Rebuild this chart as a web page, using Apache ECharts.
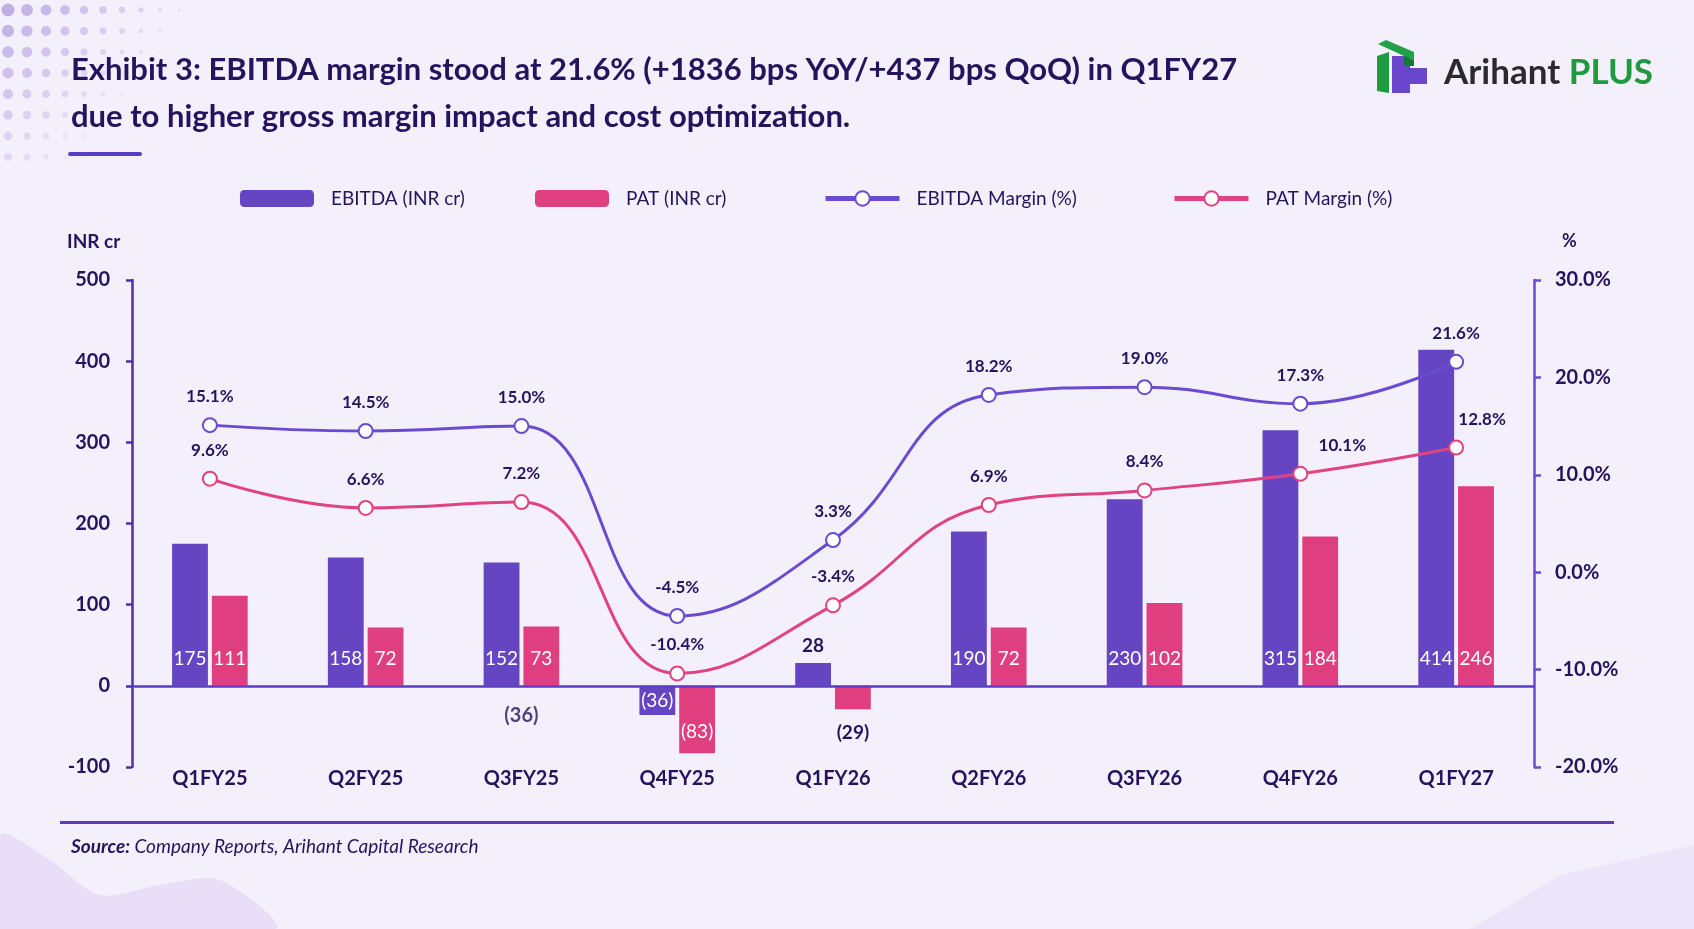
<!DOCTYPE html>
<html>
<head>
<meta charset="utf-8">
<script src="https://cdn.jsdelivr.net/npm/echarts@6/dist/echarts.min.js"></script>
<style>
  html, body { margin: 0; padding: 0; background: #f4f0fb; }
  #chart { width: 1694px; height: 929px; }
</style>
</head>
<body>
<div id="chart"></div>
<script>
// chart data (INR cr / %)
const categories = ['Q1FY25', 'Q2FY25', 'Q3FY25', 'Q4FY25', 'Q1FY26', 'Q2FY26', 'Q3FY26', 'Q4FY26', 'Q1FY27'];
const ebitda = [175, 158, 152, -36, 28, 190, 230, 315, 414];
const pat = [111, 72, 73, -83, -29, 72, 102, 184, 246];
const ebitdaMargin = [15.1, 14.5, 15.0, -4.5, 3.3, 18.2, 19.0, 17.3, 21.6];
const patMargin = [9.6, 6.6, 7.2, -10.4, -3.4, 6.9, 8.4, 10.1, 12.8];
const leftTicks = [-100, 0, 100, 200, 300, 400, 500];
const rightTicks = [-20, -10, 0, 10, 20, 30];
// stray label printed under Q3FY25 in the source exhibit
const strayNote = ['Q3FY25', -36];

const purple = '#6645c2';
const pink = '#df3f7e';
const navy = '#24145e';
const font = 'Lato, "Noto Sans", sans-serif';

const fmtBar = v => v < 0 ? '(' + Math.abs(v) + ')' : String(v);

function barData(values) {
  return values.map(v => {
    let label;
    if (v >= 0 && v < 50) {
      label = { position: 'top', color: navy, distance: 8, fontWeight: 'bold', textBorderWidth: 0 };
    } else if (v < 0 && v > -35) {
      label = { position: 'bottom', color: navy, distance: 14, fontWeight: 'bold', textBorderWidth: 0 };
    } else if (v < 0) {
      label = { position: 'inside', color: '#fff', offset: [0, v < -60 ? 12 : 0] };
    } else {
      label = { position: 'insideBottom', color: '#fff', distance: 17 };
    }
    return { value: v, label: label };
  });
}

function lineData(values, shifts) {
  return values.map((v, i) => {
    const d = { value: v };
    if (shifts && shifts[i]) d.label = { offset: [shifts[i], 0] };
    return d;
  });
}

const myChart = echarts.init(document.getElementById('chart'));

// background ornaments
let deco = [];
for (let r = 0; r < 8; r++) {
  for (let c = 0; c < 14; c++) {
    const size = Math.max(0.6, 6.5 - c * 0.55 - r * 0.35);
    const op = Math.max(0.05, 0.55 - c * 0.045 - r * 0.05);
    deco.push({
      type: 'circle', silent: true, z: -10,
      shape: { cx: 8 + c * 19, cy: 10 + r * 21, r: size },
      style: { fill: 'rgba(150,120,210,' + op + ')' }
    });
  }
}
deco.push({
  type: 'polygon', silent: true, z: -10,
  shape: { points: [[0, 835], [50, 860], [100, 895], [160, 885], [220, 880], [275, 929], [0, 929]], smooth: 0.3 },
  style: { fill: '#e8def7' }
});
deco.push({
  type: 'polygon', silent: true, z: -10,
  shape: { points: [[1470, 929], [1560, 875], [1694, 845], [1694, 929]] },
  style: { fill: '#ece4f8' }
});

const legendBase = {
  top: 189,
  padding: 0,
  itemWidth: 74,
  itemHeight: 17,
  textStyle: { fontSize: 19, color: navy, padding: [0, 0, 0, 12], fontFamily: font }
};

const option = {
  backgroundColor: '#f4f0fb',
  animation: false,
  textStyle: { fontFamily: font },
  title: {
    text: 'Exhibit 3: EBITDA margin stood at 21.6% (+1836 bps YoY/+437 bps QoQ) in Q1FY27\ndue to higher gross margin impact and cost optimization.',
    left: 66,
    top: 41,
    textStyle: { fontFamily: font, fontSize: 31, fontWeight: 'bold', color: navy, lineHeight: 47 }
  },
  legend: [
    Object.assign({}, legendBase, { data: [{ name: 'EBITDA (INR cr)', icon: 'roundRect' }], left: 240 }),
    Object.assign({}, legendBase, { data: [{ name: 'PAT (INR cr)', icon: 'roundRect' }], left: 535 }),
    Object.assign({}, legendBase, {
      data: ['EBITDA Margin (%)'], left: 823, itemHeight: 18,
      lineStyle: { width: 5 }, itemStyle: { borderWidth: 3.5 }
    }),
    Object.assign({}, legendBase, {
      data: ['PAT Margin (%)'], left: 1172, itemHeight: 18,
      lineStyle: { width: 5 }, itemStyle: { borderWidth: 3.5 }
    })
  ],
  grid: { left: 132, right: 160, top: 280, bottom: 162, containLabel: false },
  xAxis: {
    type: 'category',
    data: categories,
    axisLine: { show: false, onZero: false },
    axisTick: { show: false },
    axisLabel: { color: navy, fontSize: 20, fontWeight: 'bold', margin: 2 }
  },
  yAxis: [
    {
      type: 'value',
      min: leftTicks[0],
      max: leftTicks[leftTicks.length - 1],
      interval: 100,
      axisLine: { show: true, onZero: false, lineStyle: { color: '#4a2fb0', width: 2.5 } },
      axisTick: { show: true, length: 6, lineStyle: { color: '#4a2fb0', width: 2.5 } },
      splitLine: { show: false },
      axisLabel: { color: navy, fontSize: 20, fontWeight: 'bold', margin: 22 }
    },
    {
      type: 'value',
      min: rightTicks[0],
      max: rightTicks[rightTicks.length - 1],
      interval: 10,
      position: 'right',
      axisLine: { show: true, onZero: false, lineStyle: { color: '#6a4bd0', width: 2.5 } },
      axisTick: { show: true, length: 7, lineStyle: { color: '#6a4bd0', width: 2.5 } },
      splitLine: { show: false },
      axisLabel: { color: navy, fontSize: 20, fontWeight: 'bold', margin: 21, formatter: v => v.toFixed(1) + '%' }
    }
  ],
  graphic: deco.concat([
    { type: 'rect', shape: { x: 68, y: 152, width: 74, height: 4, r: 2 }, style: { fill: '#5b3cc4' } },
    { type: 'text', x: 67, y: 232, style: { text: 'INR cr', fill: navy, font: 'bold 19px Lato, sans-serif' } },
    { type: 'text', x: 1562, y: 232, style: { text: '%', fill: navy, font: 'bold 18px Lato, sans-serif' } },
    { type: 'rect', shape: { x: 60, y: 821, width: 1554, height: 3 }, style: { fill: '#5b3cc4' } },
    {
      type: 'text', x: 71, y: 837,
      style: {
        text: '{b|Source:} Company Reports, Arihant Capital Research',
        fill: navy,
        font: 'italic 19px Lato, sans-serif',
        rich: { b: { fontWeight: 'bold', fontStyle: 'italic', fontSize: 19, fill: navy, fontFamily: 'Lato' } }
      }
    },
    // logo
    { type: 'polygon', shape: { points: [[1392, 56], [1410, 56], [1410, 68], [1427, 68], [1427, 84], [1410, 84], [1410, 93], [1392, 93]] }, style: { fill: '#6a46cc' } },
    { type: 'polygon', shape: { points: [[1377, 56], [1389, 52], [1389, 93], [1377, 91]] }, style: { fill: '#1f9a3f' } },
    { type: 'polygon', shape: { points: [[1378, 44], [1386, 40], [1414, 52], [1414, 60], [1404, 56]] }, style: { fill: '#22a146' } },
    { type: 'polygon', shape: { points: [[1404, 56], [1414, 60], [1414, 66], [1404, 66]] }, style: { fill: '#137a30' } },
    {
      type: 'text', x: 1444, y: 55,
      style: {
        text: '{a|Arihant}{p| PLUS}',
        rich: {
          a: { fontFamily: 'Lato', fontWeight: 'bold', fontSize: 35, fill: '#2b2b2f' },
          p: { fontFamily: 'Lato', fontWeight: 'bold', fontSize: 35, fill: '#1f9a3f' }
        }
      }
    }
  ]),
  series: [
    {
      name: 'EBITDA (INR cr)',
      type: 'bar',
      data: barData(ebitda),
      barWidth: '23%',
      barGap: '11%',
      itemStyle: { color: purple },
      label: { show: true, fontSize: 19, formatter: p => fmtBar(p.value) },
      markLine: {
        silent: true,
        symbol: 'none',
        label: { show: false },
        lineStyle: { color: '#5b3cc4', width: 2.5, type: 'solid' },
        data: [{ yAxis: 0 }]
      }
    },
    {
      name: 'PAT (INR cr)',
      type: 'bar',
      data: barData(pat),
      barWidth: '23%',
      itemStyle: { color: pink },
      label: { show: true, fontSize: 19, formatter: p => fmtBar(p.value) }
    },
    {
      name: 'EBITDA Margin (%)',
      type: 'line',
      yAxisIndex: 1,
      data: lineData(ebitdaMargin),
      smooth: 0.45,
      symbol: 'emptyCircle',
      symbolSize: 14,
      lineStyle: { color: '#6a4bd0', width: 3 },
      itemStyle: { color: '#6a4bd0', borderWidth: 3.5 },
      label: { show: true, position: 'top', distance: 12, color: navy, fontSize: 17, fontWeight: 'bold', formatter: p => p.value.toFixed(1) + '%' }
    },
    {
      name: 'PAT Margin (%)',
      type: 'line',
      yAxisIndex: 1,
      data: lineData(patMargin, [0, 0, 0, 0, 0, 0, 0, 42, 26]),
      smooth: 0.45,
      symbol: 'emptyCircle',
      symbolSize: 14,
      lineStyle: { color: '#e04282', width: 3 },
      itemStyle: { color: '#e04282', borderWidth: 3.5 },
      label: { show: true, position: 'top', distance: 12, color: navy, fontSize: 17, fontWeight: 'bold', formatter: p => p.value.toFixed(1) + '%' }
    },
    {
      name: 'note',
      type: 'scatter',
      data: [strayNote],
      symbolSize: 0,
      silent: true,
      itemStyle: { color: 'transparent' },
      label: { show: true, position: 'inside', color: navy, fontSize: 20, fontWeight: 'bold', textBorderWidth: 0, formatter: '(36)' }
    }
  ]
};

myChart.setOption(option);
</script>
</body>
</html>
